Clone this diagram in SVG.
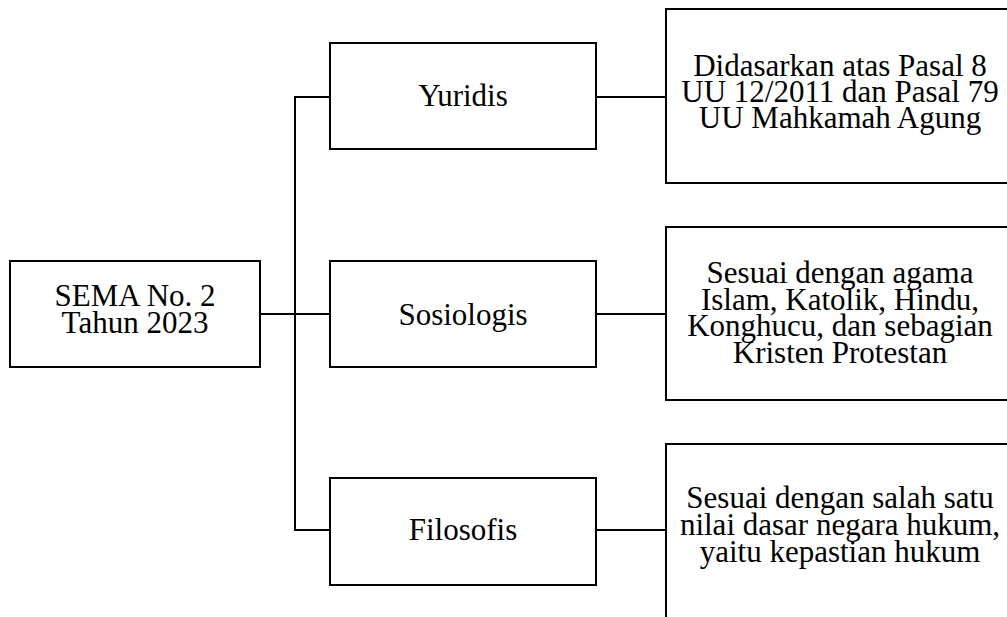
<svg xmlns="http://www.w3.org/2000/svg" width="1007" height="617" viewBox="0 0 1007 617">
<style>
.box{fill:#fff;stroke:#000;stroke-width:2}
.ln{fill:none;stroke:#000;stroke-width:2}
text{font-family:"Liberation Serif","Times New Roman",serif;font-size:31px;fill:#000;text-anchor:middle}
</style>
<rect width="1007" height="617" fill="#fff"/>
<g id="connectors">
<path class="ln" d="M260 314H330"/>
<path class="ln" d="M330 97H295V530H330"/>
<path class="ln" d="M596 97H666"/>
<path class="ln" d="M596 314H666"/>
<path class="ln" d="M596 530H666"/>
</g>
<g id="sema">
<rect class="box" x="10" y="261" width="250" height="106"/>
<text x="135" y="306">SEMA No. 2</text>
<text x="135" y="333">Tahun 2023</text>
</g>
<g id="yuridis">
<rect class="box" x="330" y="43" width="266" height="106"/>
<text x="463" y="106">Yuridis</text>
</g>
<g id="sosiologis">
<rect class="box" x="330" y="261" width="266" height="106"/>
<text x="463" y="325">Sosiologis</text>
</g>
<g id="filosofis">
<rect class="box" x="330" y="478" width="266" height="107"/>
<text x="463" y="540">Filosofis</text>
</g>
<g id="yuridis-desc">
<rect class="box" x="666" y="9" width="348" height="174"/>
<text x="840" y="76">Didasarkan atas Pasal 8</text>
<text x="840" y="102">UU 12/2011 dan Pasal 79</text>
<text x="840" y="128">UU Mahkamah Agung</text>
</g>
<g id="sosiologis-desc">
<rect class="box" x="666" y="227" width="348" height="173"/>
<text x="840" y="283">Sesuai dengan agama</text>
<text x="840" y="309.5">Islam, Katolik, Hindu,</text>
<text x="840" y="336">Konghucu, dan sebagian</text>
<text x="840" y="362.5">Kristen Protestan</text>
</g>
<g id="filosofis-desc">
<rect class="box" x="666" y="444" width="348" height="190"/>
<text x="840" y="508">Sesuai dengan salah satu</text>
<text x="840" y="535">nilai dasar negara hukum,</text>
<text x="840" y="562">yaitu kepastian hukum</text>
</g>
</svg>
